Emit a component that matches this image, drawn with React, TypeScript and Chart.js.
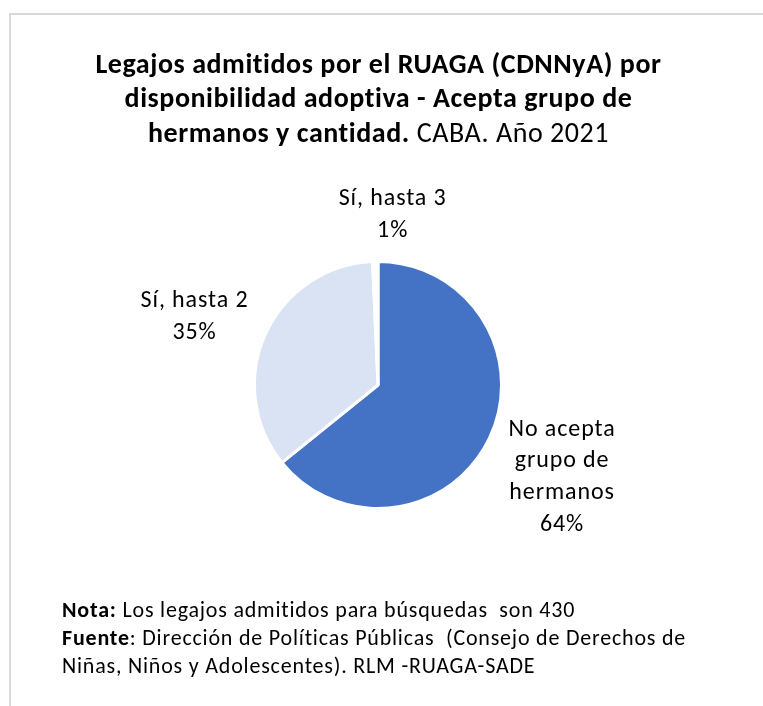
import React, { useEffect, useRef } from "react";
import { Chart, registerables } from "chart.js";

Chart.register(...registerables);

const categories = ["No acepta grupo de hermanos", "Sí, hasta 2", "Sí, hasta 3"];
const categoryLines = [["No acepta", "grupo de", "hermanos"], ["Sí, hasta 2"], ["Sí, hasta 3"]];
const counts = [276, 151, 3];
const sliceColors = ["#4472C4", "#DAE3F3", "#FFFFFF"];

const FONT = "Carlito, Lato, 'Open Sans', sans-serif";

// label placement relative to each slice (radial extension, x/y shift)
const labelExt = [80, 75, 50];
const labelShift = [[0, 2], [-3, 11], [18, 1]];

const labelPlugin = {
  id: "sliceLabels",
  afterDatasetsDraw(chart: any) {
    const ctx = chart.ctx;
    const meta = chart.getDatasetMeta(0);
    const data = chart.data.datasets[0].data as number[];
    const total = data.reduce((a, b) => a + b, 0);
    const size = 24;
    const lh = 31.8;
    const cap = size * 0.72;
    ctx.save();
    ctx.font = `${size}px ${FONT}`;
    (ctx as any).letterSpacing = "0.9px";
    ctx.fillStyle = "#000000";
    ctx.textAlign = "center";
    ctx.textBaseline = "alphabetic";
    meta.data.forEach((arc: any, i: number) => {
      const p = arc.getProps(["x", "y", "startAngle", "endAngle", "outerRadius"], true);
      const mid = (p.startAngle + p.endAngle) / 2;
      const d = p.outerRadius + labelExt[i];
      const cx = p.x + Math.cos(mid) * d + labelShift[i][0];
      const cy = p.y + Math.sin(mid) * d + labelShift[i][1];
      const lines = [...categoryLines[i], `${Math.round((data[i] / total) * 100)}%`];
      const n = lines.length;
      lines.forEach((t, k) => {
        const by = cy - ((n - 1) / 2) * lh + k * lh + cap / 2;
        ctx.fillText(t, cx + 0.45, by);
      });
    });
    ctx.restore();
  },
};

export default function App() {
  const ref = useRef<HTMLCanvasElement | null>(null);
  useEffect(() => {
    if (!ref.current) return;
    const chart = new Chart(ref.current, {
      type: "pie",
      data: {
        labels: categories,
        datasets: [
          {
            data: counts,
            backgroundColor: sliceColors,
            borderColor: "#FFFFFF",
            borderWidth: 3,
          },
        ],
      },
      options: {
        responsive: false,
        animation: false,
        events: [],
        layout: { padding: { left: 253, right: 260, top: 260, bottom: 196 } },
        plugins: {
          legend: { display: false },
          tooltip: { enabled: false },
          title: { display: false },
        },
      },
      plugins: [labelPlugin],
    });
    return () => chart.destroy();
  }, []);

  return (
    <div style={{ position: "absolute", left: 0, top: 0, width: 763, height: 706, background: "#fff", overflow: "hidden", fontFamily: FONT, color: "#000", fontVariantLigatures: "none" }}>
      <div style={{ position: "absolute", left: 9, top: 13, width: 800, height: 800, borderTop: "2px solid #D9D9D9", borderLeft: "2px solid #D9D9D9" }} />
      <canvas ref={ref} width={763} height={706} style={{ position: "absolute", left: 0, top: 0 }} />
      <div style={{ position: "absolute", left: 0, top: 46.5, width: 757, textAlign: "center", fontSize: 28, lineHeight: "34.5px", letterSpacing: "0.55px", whiteSpace: "nowrap" }}>
        <b>Legajos admitidos por el RUAGA (CDNNyA) por</b>
        <br />
        <b>disponibilidad adoptiva - Acepta grupo de</b>
        <br />
        <b>hermanos y cantidad.</b> CABA. Año 2021
      </div>
      <div style={{ position: "absolute", left: 62, top: 595.5, fontSize: 22, lineHeight: "28px", letterSpacing: "0.8px", whiteSpace: "pre" }}>
        <b>Nota:</b>{" Los legajos admitidos para búsquedas  son 430"}
        <br />
        <b>Fuente</b>{": Dirección de Políticas Públicas  (Consejo de Derechos de"}
        <br />
        {"Niñas, Niños y Adolescentes). RLM -RUAGA-SADE"}
      </div>
    </div>
  );
}
